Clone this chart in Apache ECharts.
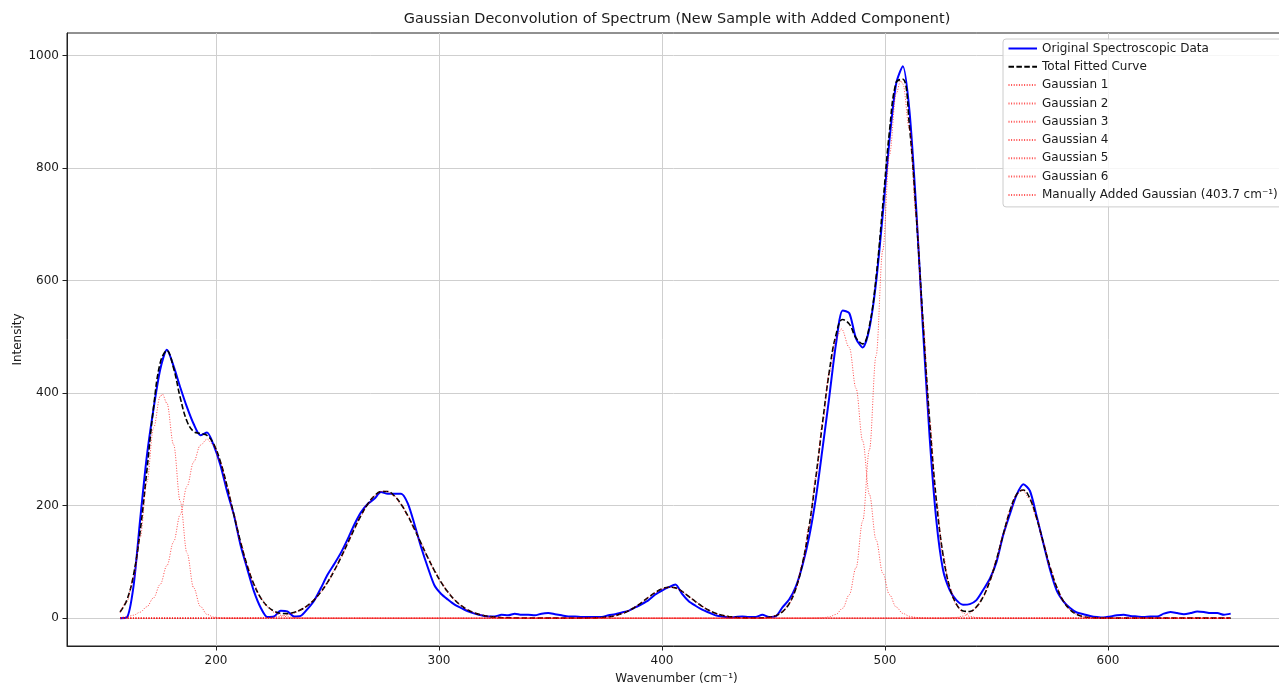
<!DOCTYPE html>
<html><head><meta charset="utf-8">
<script src="https://cdn.jsdelivr.net/npm/echarts@6/dist/echarts.min.js"></script>
<style>html,body{margin:0;padding:0;background:#fff;}#chart{width:1279px;height:684px;}</style>
</head><body><div id="chart"></div>
<script>
// ---- data ----
const wavenumber = [157,160,163,166,169,172,175,178,181,184,187,190,193,196,199,202,205,208,211,214,217,220,223,226,229,232,235,238,241,244,247,250,253,256,259,262,265,268,271,274,277,280,283,286,289,292,295,298,301,304,307,310,313,316,319,322,325,328,331,334,337,340,343,346,349,352,355,358,361,364,367,370,373,376,379,382,385,388,391,394,397,400,403,406,409,412,415,418,421,424,427,430,433,436,439,442,445,448,451,454,457,460,463,466,469,472,475,478,481,484,487,490,493,496,499,502,505,508,511,514,517,520,523,526,529,532,535,538,541,544,547,550,553,556,559,562,565,568,571,574,577,580,583,586,589,592,595,598,601,604,607,610,613,616,619,622,625,628,631,634,637,640,643,646,649,652,655];

const originalData = [0,1,56,175,288,372,442,477,448,410,375,345,325,330,307,272,225,184,130,88,48,19,2,3,13,12,3,4,16,31,53,77,96,116,140,166,188,203,212,224,221,221,221,204,167,126,90,58,43,33,24,18,12,8,5,3,3,6,5,8,6,6,5,8,9,7,5,3,3,2,2,2,2,5,7,10,13,19,25,32,42,49,55,60,43,30,22,15,10,5,3,1,2,3,2,2,6,2,3,19,33,56,94,145,214,302,393,487,547,542,497,481,515,597,718,850,950,981,900,727,515,322,174,86,50,32,24,25,32,50,70,100,148,185,219,238,226,181,133,86,49,30,18,10,7,4,2,1,3,5,6,4,3,2,3,3,8,11,9,7,9,12,11,9,9,6,8];

const fittedCurve = [11.0,31.6,76.1,154.0,261.6,374.0,454.0,475.4,444.2,391.5,349.9,331.5,328.2,324.7,309.2,278.0,234.2,184.5,135.9,93.6,60.3,36.6,21.2,12.5,8.5,8.0,10.2,14.9,22.3,32.5,46.3,63.5,84.1,107.5,132.8,158.3,182.2,202.5,217.2,225.0,225.0,217.2,202.5,182.2,158.3,132.8,107.5,84.1,63.5,46.3,32.5,22.1,14.5,9.2,5.6,3.3,1.9,1.0,0.6,0.3,0.1,0,0,0,0,0,0,0,0,0,0.2,0.5,1.1,2.3,4.4,7.9,13.0,19.9,28.2,37.3,45.7,52.0,54.9,53.8,47.5,38.5,29.5,21.0,14.0,8.5,5.0,2.7,1.3,0.6,0.3,0.3,0.5,1.6,4.5,11.3,25.6,52.4,97.3,163.9,250.7,347.7,438.2,503.4,530.8,522.6,498.1,487.5,519.3,606.0,734.0,865.4,952.3,957.8,872.1,715.8,528.9,351.4,209.9,112.8,54.9,24.9,12.8,11.9,20.1,37.7,65.9,104.4,148.8,190.7,219.7,227.7,212.1,177.6,133.8,90.6,55.2,30.2,14.9,6.6,2.6,0.9,0.3,0,0,0,0,0,0,0,0,0,0,0,0,0,0,0,0,0,0,0,0];

const gaussian1 = [[157,10.0],[160,29.2],[163,70.9],[166,143.4],[169,241.4],[172,338],[175,394],[176,398],[178,382],[181,308.4],[184,207],[187,115.8],[190,53.9],[193,20.8],[196,6.7],[199,1.8],[202,0.4],[205,0.1],[208,0],[655,0]];
const gaussian2 = [[157,1.0],[160,2.4],[163,5.2],[166,10.6],[169,20.2],[172,36.0],[175,60.0],[178,93.4],[181,135.8],[184,184.5],[187,234.1],[190,277.6],[193,307.4],[196,318],[199,307.4],[202,277.6],[205,234.1],[208,184.5],[211,135.8],[214,93.4],[217,60.0],[220,36.0],[223,20.2],[226,10.6],[229,5.2],[232,2.4],[235,1.0],[238,0.4],[241,0.15],[244,0],[655,0]];
const gaussian3 = [[157,0],[208,0],[211,0.07],[214,0.15],[217,0.28],[220,0.55],[223,1.0],[226,1.9],[229,3.3],[232,5.6],[235,9.2],[238,14.5],[241,22.1],[244,32.5],[247,46.3],[250,63.5],[253,84.1],[256,107.5],[259,132.8],[262,158.3],[265,182.2],[268,202.5],[271,217.2],[274,225],[275.5,226],[277,225],[280,217.2],[283,202.5],[286,182.2],[289,158.3],[292,132.8],[295,107.5],[298,84.1],[301,63.5],[304,46.3],[307,32.5],[310,22.1],[313,14.5],[316,9.2],[319,5.6],[322,3.3],[325,1.9],[328,1.0],[331,0.55],[334,0.28],[337,0.14],[340,0],[655,0]];
const gaussian4 = [[157,0],[439,0],[442,0.16],[445,0.5],[448,1.6],[451,4.5],[454,11.3],[457,25.6],[460,52.4],[463,97.3],[466,163.9],[469,250.5],[472,347],[475,436],[478,496.8],[480.5,514],[484,480.9],[487,408.5],[490,314.7],[493,219.9],[496,139.3],[499,80],[502,41.7],[505,19.7],[508,8.4],[511,3.3],[514,1.2],[517,0.4],[520,0.1],[523,0],[655,0]];
const gaussian5 = [[157,0],[466,0],[469,0.2],[472,0.7],[475,2.2],[478,6.6],[481,17.5],[484,41.7],[487,89.6],[490,172.8],[493,299.4],[496,466.7],[499,654],[502,823.7],[505,932.6],[507,955],[508,949.4],[511,868.8],[514,714.6],[517,528.5],[520,351.3],[523,209.9],[526,112.8],[529,54.5],[532,23.6],[535,9.2],[538,3.2],[541,1.0],[544,0.3],[547,0.1],[550,0],[655,0]];
const gaussian6 = [[157,0],[526,0],[529,0.4],[532,1.3],[535,3.6],[538,8.7],[541,19.1],[544,37.4],[547,65.8],[550,104.4],[553,148.8],[556,190.7],[559,219.7],[561.5,228],[565,212.1],[568,177.6],[571,133.8],[574,90.6],[577,55.2],[580,30.2],[583,14.9],[586,6.6],[589,2.6],[592,0.9],[595,0.3],[598,0],[655,0]];
const manualGaussian = [[157,0],[364,0],[367,0.2],[370,0.5],[373,1.1],[376,2.3],[379,4.4],[382,7.9],[385,13.0],[388,19.9],[391,28.2],[394,37.3],[397,45.7],[400,52.0],[403,54.9],[406,53.8],[409,47.5],[412,38.5],[415,29.5],[418,21.0],[421,14.0],[424,8.5],[427,5.0],[430,2.7],[433,1.3],[436,0.6],[439,0.3],[442,0.1],[445,0],[655,0]];

const xTicks = [200,300,400,500,600];
const yTicks = [0,200,400,600,800,1000];
const seriesNames = ['Original Spectroscopic Data','Total Fitted Curve','Gaussian 1','Gaussian 2','Gaussian 3','Gaussian 4','Gaussian 5','Gaussian 6','Manually Added Gaussian (403.7 cm\u207B\u00B9)'];
const titleText = 'Gaussian Deconvolution of Spectrum (New Sample with Added Component)';
const xName = 'Wavenumber (cm\u207B\u00B9)';
const yName = 'Intensity';

// ---- chart ----
const FONT = 'DejaVu Sans';
const TXT = '#1a1a1a';
const RED = 'rgba(255,0,0,0.7)';
const pairs = (ys) => wavenumber.map((x, i) => [x, ys[i]]);
const gaussData = [gaussian1, gaussian2, gaussian3, gaussian4, gaussian5, gaussian6, manualGaussian];

const series = [
  {name: seriesNames[0], type: 'line', data: pairs(originalData), symbol: 'none', smooth: 0.25,
   lineStyle: {color: '#0000ff', width: 2}, itemStyle: {color: '#0000ff'}, z: 2},
  {name: seriesNames[1], type: 'line', data: pairs(fittedCurve), symbol: 'none', smooth: 0.4,
   lineStyle: {color: '#000000', width: 1.6, type: [5.5, 2.4]}, itemStyle: {color: '#000000'}, z: 3}
];
gaussData.forEach((g, i) => {
  series.push({name: seriesNames[i + 2], type: 'line', data: g, symbol: 'none', smooth: 0.35, smoothMonotone: 'x',
    lineStyle: {color: RED, width: 1, type: [1, 1.6]}, itemStyle: {color: RED}, z: 4});
});

const axisCommon = {
  type: 'value',
  axisLine: {show: true, onZero: false, lineStyle: {color: '#222', width: 1}},
  splitLine: {show: true, lineStyle: {color: '#cfcfcf', width: 1}},
  nameLocation: 'middle',
  nameMoveOverlap: false,
  nameTextStyle: {fontFamily: FONT, fontSize: 12, color: TXT}
};

const option = {
  animation: false,
  backgroundColor: '#ffffff',
  graphic: [{
    type: 'text', x: 677, y: 19, z: 100,
    style: {text: titleText, fontFamily: FONT, fontSize: 14.4, fill: TXT,
            textAlign: 'center', textVerticalAlign: 'middle', align: 'center', verticalAlign: 'middle'}
  }],
  grid: {left: 67, top: 33, width: 1219, height: 613, show: true, borderColor: '#222', borderWidth: 1,
         backgroundColor: 'transparent', containLabel: false, outerBoundsMode: 'none'},
  xAxis: Object.assign({}, axisCommon, {
    min: 133.2, max: 679.8,
    axisTick: {show: true, length: 4.5, customValues: xTicks, lineStyle: {color: '#222'}},
    axisLabel: {customValues: xTicks, margin: 9, fontFamily: FONT, fontSize: 12, color: TXT, formatter: (v) => String(v)},
    name: xName, nameGap: 27
  }),
  yAxis: Object.assign({}, axisCommon, {
    min: -49.5, max: 1040,
    axisTick: {show: true, length: 4.5, customValues: yTicks, lineStyle: {color: '#222'}},
    axisLabel: {customValues: yTicks, margin: 8, fontFamily: FONT, fontSize: 12, color: TXT, formatter: (v) => String(v)},
    name: yName, nameGap: 43
  }),
  legend: {
    orient: 'vertical', left: 1003, top: 39,
    padding: [2.5, 24, 5, 4.5], itemWidth: 28.5, itemHeight: 10, itemGap: 4.3,
    itemStyle: {color: 'rgba(0,0,0,0)', borderColor: 'rgba(0,0,0,0)', borderWidth: 0, opacity: 0},
    textStyle: {fontFamily: FONT, fontSize: 12, color: TXT, lineHeight: 14},
    backgroundColor: 'rgba(255,255,255,0.8)', borderColor: '#cccccc', borderWidth: 1, borderRadius: 3,
    data: seriesNames, z: 10
  },
  series: series
};

const chart = echarts.init(document.getElementById('chart'), null, {renderer: 'canvas'});
chart.setOption(option);
</script>
</body></html>
